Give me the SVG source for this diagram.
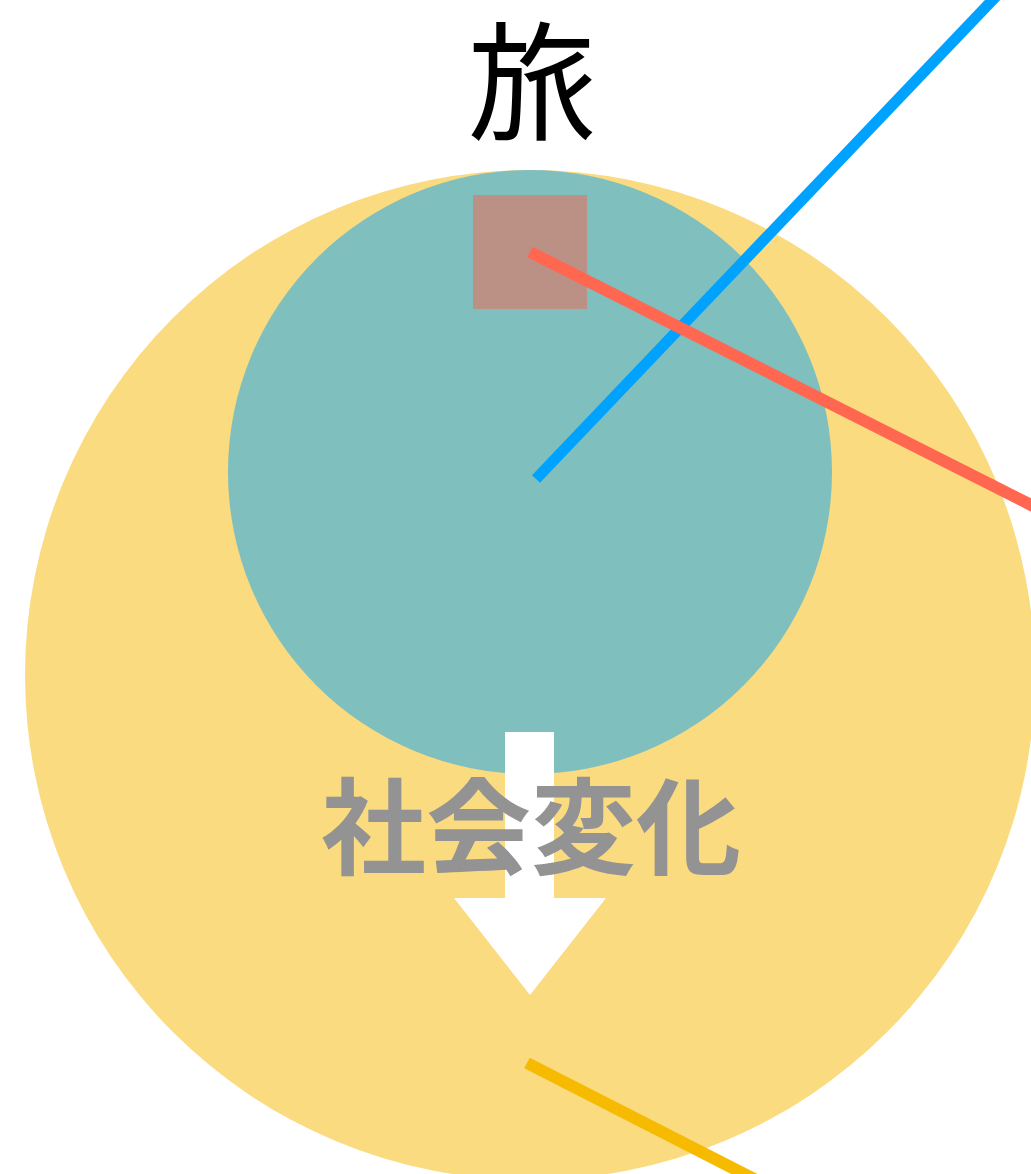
<svg xmlns="http://www.w3.org/2000/svg" width="1031" height="1174" viewBox="0 0 1031 1174">
<style>
.line{fill:none;stroke-linecap:butt}
.cjk{font-family:"Noto Sans CJK JP","Noto Sans CJK SC",sans-serif;text-anchor:middle}
</style>
<rect width="1031" height="1174" fill="#ffffff"/>
<g id="outer-circle"><circle cx="530" cy="675" r="505" fill="#FADB80"/></g>
<g id="inner-circle"><circle cx="530" cy="472" r="302" fill="#7FBFBE"/></g>
<g id="square"><rect x="473" y="195" width="114" height="114" fill="#BC9185"/></g>
<g id="arrow"><polygon points="505,732 554,732 554,898 606,898 530,995 454,898 505,898" fill="#ffffff"/></g>
<g id="label-social"><text class="cjk" x="531" y="866" font-size="105" font-weight="700" fill="#939393">社会変化</text></g>
<g id="label-travel"><text class="cjk" x="532" y="130" font-size="128" fill="#000000">旅</text></g>
<g id="connectors">
<line class="line" x1="536" y1="479" x2="1003" y2="-11" stroke="#00A2FF" stroke-width="11"/>
<line class="line" x1="530" y1="252" x2="1045" y2="512" stroke="#FF6750" stroke-width="12"/>
<line class="line" x1="527" y1="1063" x2="760" y2="1182" stroke="#F6BA00" stroke-width="12"/>
</g>
</svg>
